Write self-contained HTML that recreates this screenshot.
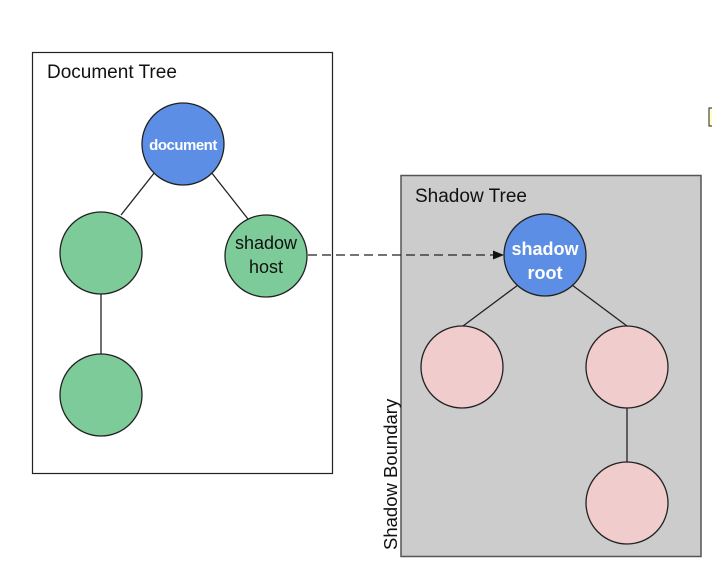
<!DOCTYPE html>
<html><head><style>
html,body{margin:0;padding:0;background:#fff;}
</style></head><body>
<svg width="712" height="582" xmlns="http://www.w3.org/2000/svg" font-family="Liberation Sans, Arial, sans-serif">
<rect x="32.5" y="52.5" width="300" height="421" fill="#fff" stroke="#222" stroke-width="1.2"/>
<text x="47" y="78" font-size="19" fill="#111">Document Tree</text>
<rect x="401" y="175.5" width="300" height="381" fill="#cccccc" stroke="#555" stroke-width="1.5"/>
<text x="415" y="202" font-size="19" fill="#111">Shadow Tree</text>
<text transform="translate(397,550) rotate(-90)" font-size="18.5" fill="#111">Shadow Boundary</text>
<rect x="709" y="108" width="6" height="18" fill="#ffffc0" stroke="#222" stroke-width="1"/>
<g stroke="#222" stroke-width="1.3">
<line x1="155" y1="172" x2="121" y2="215"/>
<line x1="211" y1="172" x2="248" y2="219"/>
<line x1="101" y1="294" x2="101" y2="354"/>
<line x1="518" y1="285" x2="463" y2="326"/>
<line x1="572" y1="285" x2="627" y2="326"/>
<line x1="627" y1="408" x2="627" y2="462"/>
</g>
<line x1="308" y1="255" x2="494" y2="255" stroke="#222" stroke-width="1.3" stroke-dasharray="9,5"/>
<polygon points="504,255 493,250.5 493,259.5" fill="#111"/>
<g stroke="#222" stroke-width="1.3">
<ellipse cx="183" cy="144" rx="41" ry="41" fill="#5b8ee4"/>
<ellipse cx="101" cy="253" rx="41" ry="41" fill="#7ecb9a"/>
<ellipse cx="266" cy="256" rx="41" ry="41" fill="#7ecb9a"/>
<ellipse cx="101" cy="395" rx="41" ry="41" fill="#7ecb9a"/>
<ellipse cx="545" cy="255" rx="41" ry="41" fill="#5b8ee4"/>
<ellipse cx="462" cy="367" rx="41" ry="41" fill="#f0cccc"/>
<ellipse cx="627" cy="367" rx="41" ry="41" fill="#f0cccc"/>
<ellipse cx="627" cy="503" rx="41" ry="41" fill="#f0cccc"/>
</g>
<text x="183" y="150" font-size="15" fill="#fff" text-anchor="middle" font-weight="bold" letter-spacing="-0.5">document</text>
<text x="266" y="249" font-size="18" fill="#111" text-anchor="middle">shadow</text>
<text x="266" y="273" font-size="18" fill="#111" text-anchor="middle">host</text>
<text x="545" y="255" font-size="18" fill="#fff" text-anchor="middle" font-weight="bold">shadow</text>
<text x="545" y="279" font-size="18" fill="#fff" text-anchor="middle" font-weight="bold">root</text>
</svg>
</body></html>
